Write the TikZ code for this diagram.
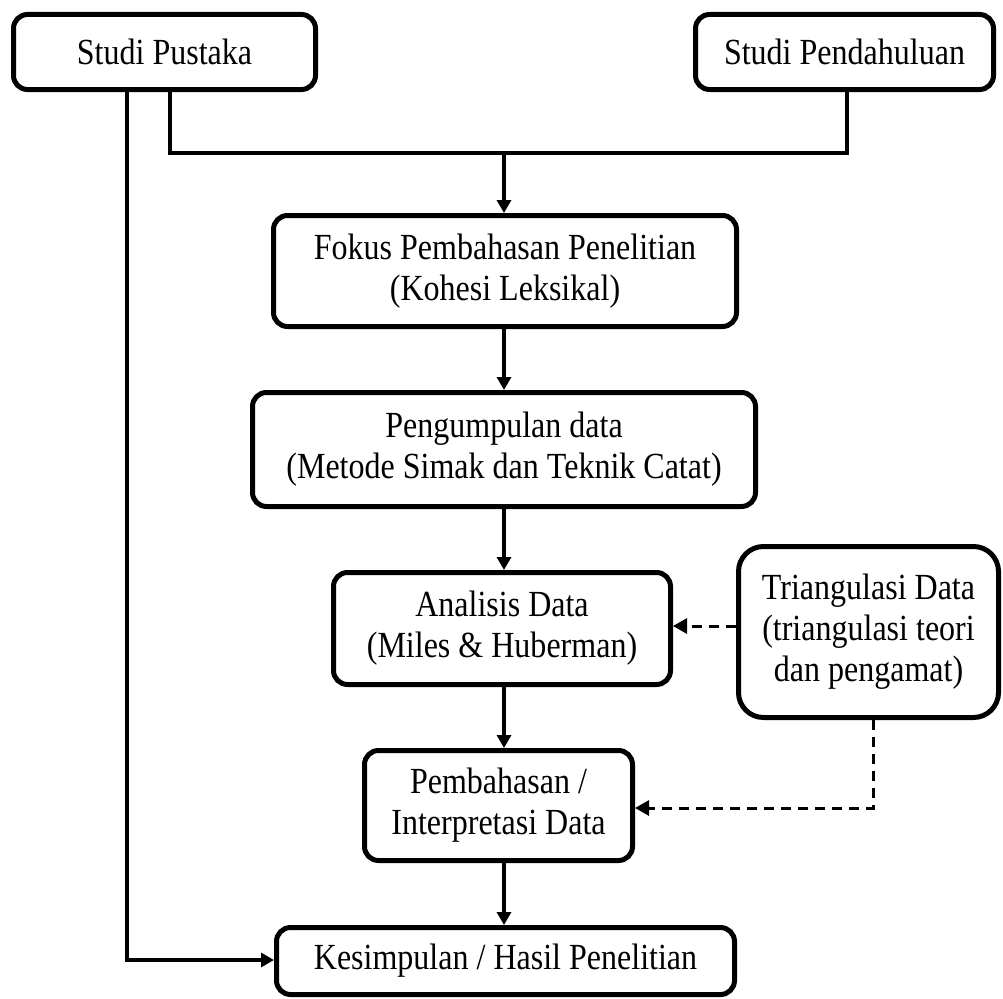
\documentclass[tikz,border=0pt]{standalone}
\usepackage{fontspec}
\setmainfont[FakeStretch=0.87]{Liberation Serif}
\usetikzlibrary{arrows.meta}
\begin{document}
\begin{tikzpicture}[x=1pt,y=-1pt,
  box/.style={draw=black, line width=5pt, rounded corners=14pt, align=center,
    inner sep=0pt, font=\fontsize{36.8}{41}\selectfont},
  conn/.style={line width=3.5pt, line join=miter},
  arr/.style={conn, -{Triangle[length=13pt,width=14pt]}},
  darr/.style={line width=3pt, dash pattern=on 10pt off 7pt, -{Triangle[length=14pt,width=15pt]}}
]
\useasboundingbox (0,0) rectangle (1003,998);
\node[box, minimum width=302pt, minimum height=75pt] (sp) at (164.5,52) {Studi Pustaka};
\node[box, minimum width=298pt, minimum height=75pt] (spd) at (844.5,52) {Studi Pendahuluan};
\node[box, minimum width=463pt, minimum height=111pt] (fk) at (505,271) {Fokus Pembahasan Penelitian\\(Kohesi Leksikal)};
\node[box, minimum width=503pt, minimum height=114pt] (pd) at (504,449.5) {Pengumpulan data\\(Metode Simak dan Teknik Catat)};
\node[box, minimum width=337pt, minimum height=112pt] (an) at (502,628.5) {Analisis Data\\(Miles \& Huberman)};
\node[box, rounded corners=25pt, minimum width=260pt, minimum height=171pt] (tr) at (868.5,632) {Triangulasi Data\\(triangulasi teori\\dan pengamat)};
\node[box, minimum width=268pt, minimum height=110pt] (pb) at (498.5,805.5) {Pembahasan /\\Interpretasi Data};
\node[box, minimum width=458pt, minimum height=67pt] (ks) at (505.5,961) {Kesimpulan / Hasil Penelitian};

\coordinate (jl) at (170,153);
\coordinate (jr) at (847,153);
\coordinate (jm) at (504,153);
\coordinate (lb) at (127,960);
\coordinate (da) at (700,626);
\coordinate (db) at (873,808);

\draw[conn] (jl |- sp.south) -- (jl) -- (jr) -- (jr |- spd.south);
\draw[arr] (jm) -- (jm |- fk.north);
\draw[arr] (jm |- fk.south) -- (jm |- pd.north);
\draw[arr] (jm |- pd.south) -- (jm |- an.north);
\draw[arr] (jm |- an.south) -- (jm |- pb.north);
\draw[arr] (jm |- pb.south) -- (jm |- ks.north);
\draw[arr] (lb |- sp.south) -- (lb) -- (lb -| ks.west);
\draw[darr] (da -| tr.west) -- (da -| an.east);
\draw[darr] (db |- tr.south) -- (db) -- (db -| pb.east);
\end{tikzpicture}
\end{document}
